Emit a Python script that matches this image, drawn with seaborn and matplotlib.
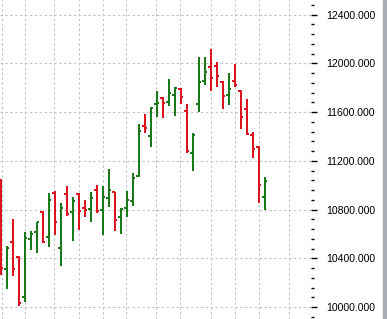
import matplotlib
matplotlib.use("Agg")
import numpy as np
import pandas as pd
import seaborn as sns
import matplotlib.pyplot as plt
from matplotlib.patches import Rectangle
from matplotlib.ticker import MultipleLocator

# ---- data (OHLC) ----
opens = [10961, 10316, 10534, 10411, 10082, 10558, 10616, 10782, 10577, 10940,
         10484, 10928, 10782, 10928, 10809, 10805, 10961, 10796, 10893, 10942,
         10741, 10813, 10873, 11076, 11486, 11404, 11663, 11716, 11686, 11741,
         11786, 11613, 11262, 11667, 11853, 11968, 11979, 11847, 11738, 11856,
         11774, 11628, 11412, 11310, 10906]
highs = [11051, 10501, 10723, 10419, 10616, 10624, 10702, 10788, 10936, 10952,
         10856, 10993, 10902, 10934, 10879, 10942, 11002, 10993, 11131, 10947,
         10815, 10952, 11098, 11500, 11585, 11642, 11774, 11724, 11870, 11806,
         11798, 11663, 11431, 12054, 12053, 12118, 12008, 11853, 11919, 11995,
         11782, 11710, 11433, 11322, 11065]
lows = [10263, 10148, 10255, 10008, 10041, 10468, 10446, 10523, 10495, 10595,
        10337, 10747, 10542, 10636, 10743, 10700, 10769, 10591, 10824, 10627,
        10597, 10737, 10833, 11070, 11426, 11316, 11563, 11556, 11650, 11571,
        11663, 11262, 11113, 11599, 11819, 11776, 11809, 11626, 11661, 11809,
        11464, 11412, 11221, 10858, 10796]
closes = [10320, 10484, 10312, 10033, 10567, 10599, 10695, 10536, 10879, 10700,
          10817, 10764, 10870, 10788, 10796, 10899, 10788, 10903, 10957, 10714,
          10805, 10879, 11057, 11445, 11470, 11632, 11671, 11675, 11760, 11798,
          11724, 11281, 11416, 11850, 11932, 11878, 11897, 11732, 11794, 11823,
          11563, 11418, 11297, 11002, 11035]
ytick_values = [10000, 10400, 10800, 11200, 11600, 12000, 12400]
vgrid_positions = [0.15, 4.05, 8.8, 12.95, 17.0, 20.9, 25.9, 29.9, 35.0, 39.05, 43.1, 48.1]

UP = "#1a7a1a"
DOWN = "#dc1420"
GRID = "#c4c4c4"

sns.set_theme(style="white")
plt.rcParams["font.family"] = ["Liberation Sans", "DejaVu Sans"]

df = pd.DataFrame({"open": opens, "high": highs, "low": lows, "close": closes})
df["x"] = np.arange(len(df))
df["color"] = np.where(df["close"] >= df["open"], UP, DOWN)

fig = plt.figure(figsize=(3.87, 3.19), dpi=100)
ax = fig.add_axes([0, 0, 311 / 387, 1])
ax.set_facecolor("white")

px = 1 / 6.0  # one pixel in bar units
ax.set_xlim(-0.8 * px, -0.8 * px + 311 * px)
ax.set_ylim(9901.5, 12520.8)

# grid
ax.set_xticks(vgrid_positions)
ax.set_xticklabels([])
ax.tick_params(axis="x", length=0)
ax.grid(True, which="major", color=GRID, linestyle=(0, (2.2, 2.2)), linewidth=0.8)

lw = 1.45
tick_w = 0.42
ax.vlines(df["x"], df["low"], df["high"], colors=df["color"], linewidth=lw, zorder=3)
ax.hlines(df["open"], df["x"] - tick_w, df["x"], colors=df["color"], linewidth=lw, zorder=3)
ax.hlines(df["close"], df["x"], df["x"] + tick_w, colors=df["color"], linewidth=lw, zorder=3)

ax.yaxis.tick_right()
ax.set_yticks(ytick_values)
ax.set_yticklabels([f"{v:.3f}" for v in ytick_values])
ax.yaxis.set_minor_locator(MultipleLocator(80))
ax.tick_params(axis="y", which="major", direction="out", length=4, width=1,
               color="black", pad=7, labelsize=7.6, labelcolor="black")
ax.tick_params(axis="y", which="minor", direction="out", length=2.2, width=1,
               color="black", right=True)

for s in ax.spines.values():
    s.set_visible(False)

fig.patches.append(Rectangle((383 / 387, 0), 4 / 387, 1, transform=fig.transFigure,
                             color="#a9adb3", zorder=0))

fig.savefig("out.png", dpi=100)
